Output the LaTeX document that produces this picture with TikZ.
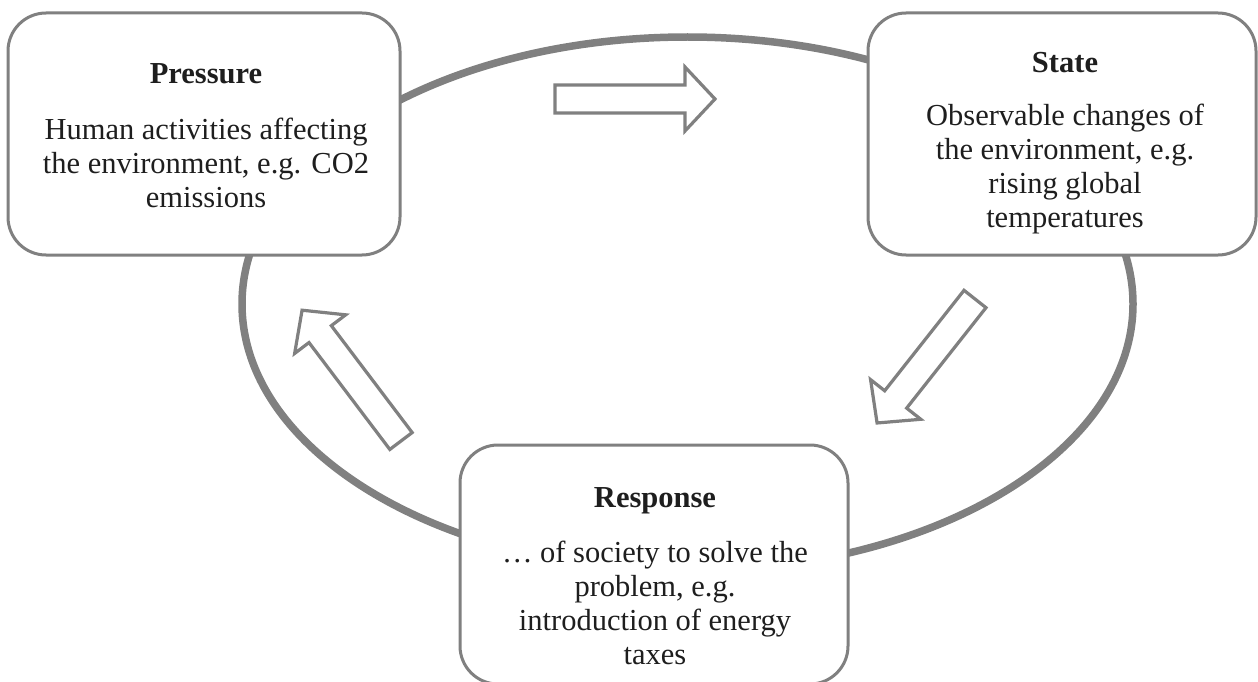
\documentclass[tikz,border=0pt]{standalone}
\usepackage{fontspec}
\setmainfont{Liberation Serif}
\definecolor{linegray}{RGB}{128,128,128}
\definecolor{textcol}{RGB}{30,30,30}
\tikzset{
  box/.style={draw=linegray, line width=3pt, fill=white, rounded corners=38pt, inner sep=0pt},
  boxtext/.style={align=center, text=textcol, inner sep=0pt, font=\fontsize{30.5}{34}\selectfont},
  cycleline/.style={draw=linegray, line width=7.5pt},
  arrowline/.style={draw=linegray, line width=3.2pt, fill=white, line join=miter},
  blockarrow/.pic={\path[arrowline] (0,-14) -- (#1-30,-14) -- (#1-30,-32) -- (#1,0) -- (#1-30,32) -- (#1-30,14) -- (0,14) -- cycle;}
}
\begin{document}
\begin{tikzpicture}[x=1pt,y=-1pt]
\clip (0,0) rectangle (1258,682);
\fill[white] (0,0) rectangle (1258,682);
% cycle
\draw[cycleline] (687.5,304) ellipse [x radius=445.5, y radius=267];
% arrows
\pic[rotate=0] at (555,99) {blockarrow=160};
\pic[rotate=-128.3] at (975,299) {blockarrow=158};
\pic[rotate=127.1] at (401,441) {blockarrow=164};
% boxes
\node[box, minimum width=392pt, minimum height=242pt] (pressure) at (204,134) {};
\node[box, minimum width=388pt, minimum height=242pt] (state) at (1062,134) {};
\node[box, minimum width=388pt, minimum height=239pt] (response) at (654,564.5) {};
% texts
\node[boxtext] (ptext) at (206,136) {\textbf{Pressure}\\[22pt]Human activities affecting\\the environment, e.g. CO2\\emissions};
\node[boxtext] (stext) at (1065,143) {\textbf{State}\\[19pt]Observable changes of\\the environment, e.g.\\rising global\\temperatures};
\node[boxtext] (rtext) at (655,576) {\textbf{Response}\\[21pt]\dots\ of society to solve the\\problem, e.g.\\introduction of energy\\taxes};
\end{tikzpicture}
\end{document}
